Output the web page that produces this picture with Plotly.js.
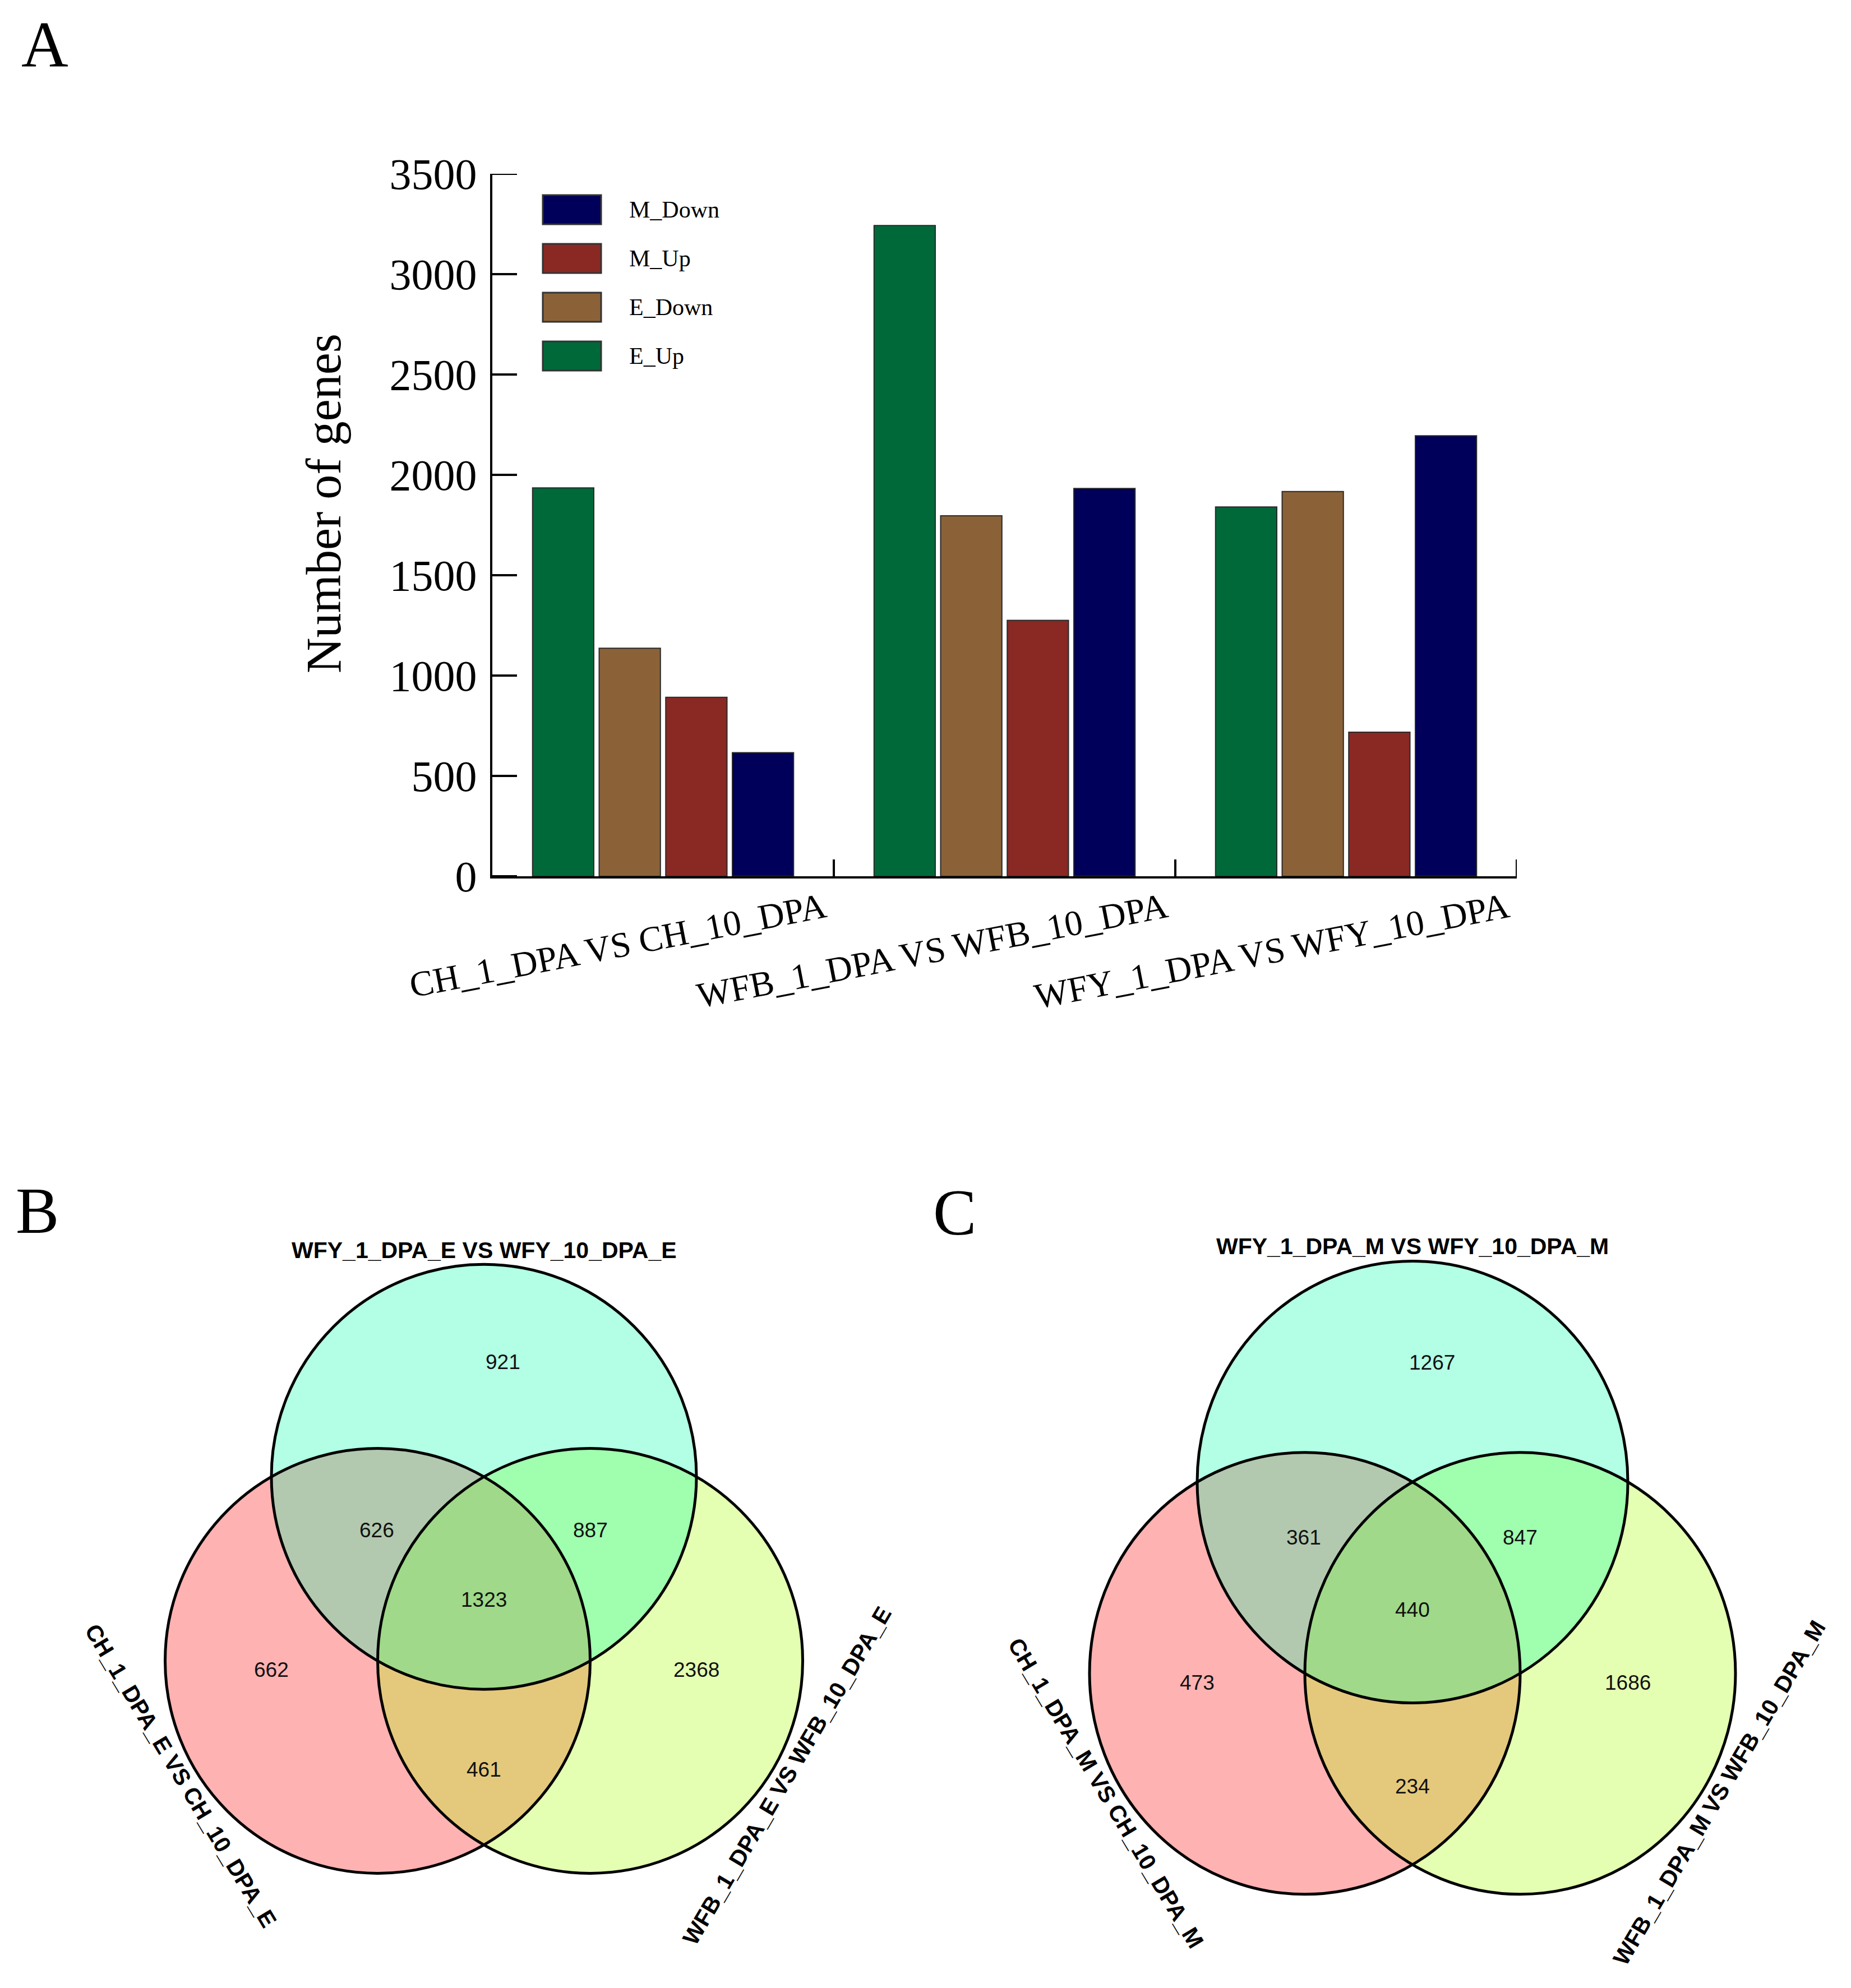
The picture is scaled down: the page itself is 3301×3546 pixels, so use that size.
<!DOCTYPE html>
<html>
<head>
<meta charset="utf-8">
<script src="https://cdn.plot.ly/plotly-3.0.1.min.js"></script>
<style>html,body{margin:0;padding:0;background:#fff;}#chart{width:3301px;height:3546px;}</style>
</head>
<body>
<div id="chart"></div>
<script>
// ---------- DATA ----------
const categories = ['CH_1_DPA VS CH_10_DPA', 'WFB_1_DPA VS WFB_10_DPA', 'WFY_1_DPA VS WFY_10_DPA'];
const seriesNames = ['E_Up', 'E_Down', 'M_Up', 'M_Down'];
const E_Up = [1935, 3242, 1840];
const E_Down = [1136, 1796, 1917];
const M_Up = [892, 1275, 718];
const M_Down = [616, 1932, 2195];
const yTickStep = 500;
const yMax = 3500;

// Venn regions: [top only, top∩left, top∩right, all three, left only, right only, left∩right]
const vennB_sets = ['WFY_1_DPA_E VS WFY_10_DPA_E', 'CH_1_DPA_E VS CH_10_DPA_E', 'WFB_1_DPA_E VS WFB_10_DPA_E'];
const vennB_counts = [921, 626, 887, 1323, 662, 2368, 461];
const vennC_sets = ['WFY_1_DPA_M VS WFY_10_DPA_M', 'CH_1_DPA_M VS CH_10_DPA_M', 'WFB_1_DPA_M VS WFB_10_DPA_M'];
const vennC_counts = [1267, 361, 847, 440, 473, 1686, 234];

// ---------- STYLE / LAYOUT ----------
const W = 3301, H = 3546;
const px = x => x / W;
const py = y => 1 - y / H;
const seriesColors = {E_Up: '#00693A', E_Down: '#8B6238', M_Up: '#8A2824', M_Down: '#00005A'};
const serif = 'Liberation Serif, Times New Roman, serif';
const sans = 'Liberation Sans, Arial, sans-serif';
const seriesData = {E_Up, E_Down, M_Up, M_Down};

const traces = seriesNames.map(n => ({
  type: 'bar', name: n, x: categories, y: seriesData[n],
  marker: {color: seriesColors[n], line: {color: '#2a2a2a', width: 2}},
  showlegend: false, hoverinfo: 'skip'
}));

const shapes = [];
const annotations = [];

const axisLeftPx = 878, axisBottomPx = 1563;

// inward y-axis ticks, placed through the y scale
for (let v = 0; v <= yMax; v += yTickStep) {
  shapes.push({type: 'line', xref: 'paper', xsizemode: 'pixel', xanchor: px(axisLeftPx), x0: 0, x1: 44,
    yref: 'y', y0: v, y1: v, line: {color: '#000', width: 4}});
}
// inward tick at the last category boundary
shapes.push({type: 'line', xref: 'x', x0: categories.length - 0.5, x1: categories.length - 0.5,
  yref: 'paper', ysizemode: 'pixel', yanchor: py(axisBottomPx), y0: 0, y1: 30,
  line: {color: '#000', width: 4}});

// panel letters
[['A', 80, 80], ['B', 66, 2160], ['C', 1703, 2163]].forEach(([t, x, y]) => {
  annotations.push({text: t, x: px(x), y: py(y), xref: 'paper', yref: 'paper', showarrow: false,
    xanchor: 'center', yanchor: 'middle', font: {family: serif, size: 116, color: '#000'}});
});

// y axis title
annotations.push({text: 'Number of genes', x: px(577), y: py(898), xref: 'paper', yref: 'paper',
  showarrow: false, textangle: -90, xanchor: 'center', yanchor: 'middle',
  font: {family: serif, size: 88, color: '#000'}});

// manual legend (reversed order)
seriesNames.slice().reverse().forEach((n, i) => {
  const cy = 374 + 87 * i;
  shapes.push({type: 'rect', xref: 'paper', yref: 'paper', x0: px(968), x1: px(1072),
    y0: py(cy + 26), y1: py(cy - 26), fillcolor: seriesColors[n], line: {color: '#333', width: 3}});
  annotations.push({text: n, x: px(1120), y: py(cy), xref: 'paper', yref: 'paper', showarrow: false,
    xanchor: 'left', yanchor: 'middle', font: {family: serif, size: 42, color: '#000'}});
});

// Venn diagrams
function venn(cx, cy, rx, ry, sets, counts) {
  const k = 1 / Math.sqrt(3);
  const circ = {
    top: [cx, cy - k * ry],
    left: [cx - 0.5 * rx, cy + 0.5 * k * ry],
    right: [cx + 0.5 * rx, cy + 0.5 * k * ry]
  };
  const fills = {left: 'rgba(255,0,0,0.3)', right: 'rgba(165,255,0,0.3)', top: 'rgba(0,255,170,0.3)'};
  ['left', 'right', 'top'].forEach(c => {
    const [x, y] = circ[c];
    shapes.push({type: 'circle', xref: 'paper', yref: 'paper', x0: px(x - rx), x1: px(x + rx),
      y0: py(y + ry), y1: py(y - ry), fillcolor: fills[c], line: {width: 0}});
  });
  ['left', 'right', 'top'].forEach(c => {
    const [x, y] = circ[c];
    shapes.push({type: 'circle', xref: 'paper', yref: 'paper', x0: px(x - rx), x1: px(x + rx),
      y0: py(y + ry), y1: py(y - ry), fillcolor: 'rgba(0,0,0,0)', line: {color: '#000', width: 5}});
  });
  const off = [[0.09, -1.118], [-0.505, -0.325], [0.5, -0.325], [0, 0], [-1.0, 0.33], [1.0, 0.33], [0, 0.80]];
  counts.forEach((v, i) => {
    annotations.push({text: String(v), x: px(cx + off[i][0] * rx), y: py(cy + off[i][1] * ry),
      xref: 'paper', yref: 'paper', showarrow: false, xanchor: 'center', yanchor: 'middle',
      font: {family: sans, size: 37, color: '#111'}});
  });
  const lab = [[0, -1.645, 0], [-1.425, 0.83, 59], [1.425, 0.83, -59.5]];
  sets.forEach((s, i) => {
    annotations.push({text: '<b>' + s + '</b>', x: px(cx + lab[i][0] * rx), y: py(cy + lab[i][1] * ry),
      xref: 'paper', yref: 'paper', showarrow: false, xanchor: 'center', yanchor: 'middle',
      textangle: lab[i][2], font: {family: sans, size: 41, color: '#000'}});
  });
}
venn(863, 2853, 379, 379, vennB_sets, vennB_counts);
venn(2519, 2871, 384, 394, vennC_sets, vennC_counts);

const layout = {
  width: W, height: H,
  margin: {l: 0, r: 0, t: 0, b: 0, pad: 0},
  paper_bgcolor: '#fff', plot_bgcolor: 'rgba(0,0,0,0)',
  font: {family: serif, color: '#000'},
  barmode: 'group', bargap: 0.22, bargroupgap: 0.08,
  showlegend: false,
  xaxis: {
    domain: [px(axisLeftPx), px(2705)], type: 'category', range: [-0.5, 2.5],
    showline: true, linecolor: '#000', linewidth: 4,
    ticks: 'inside', tickson: 'boundaries', ticklen: 30, tickwidth: 4, tickcolor: '#000',
    tickangle: -11, ticklabelshift: 288, ticklabelstandoff: -8,
    tickfont: {family: serif, size: 64, color: '#000'},
    showgrid: false, zeroline: false, fixedrange: true, automargin: false
  },
  yaxis: {
    domain: [py(axisBottomPx), py(310)], range: [0, yMax],
    tickmode: 'linear', tick0: 0, dtick: yTickStep,
    showline: true, linecolor: '#000', linewidth: 4,
    ticks: 'inside', ticklen: 44, tickwidth: 4, tickcolor: '#000',
    ticklabelstandoff: 8,
    tickfont: {family: serif, size: 78, color: '#000'},
    showgrid: false, zeroline: false, fixedrange: true, automargin: false
  },
  shapes: shapes,
  annotations: annotations
};

Plotly.newPlot('chart', traces, layout, {staticPlot: true, displayModeBar: false});
</script>
</body>
</html>
